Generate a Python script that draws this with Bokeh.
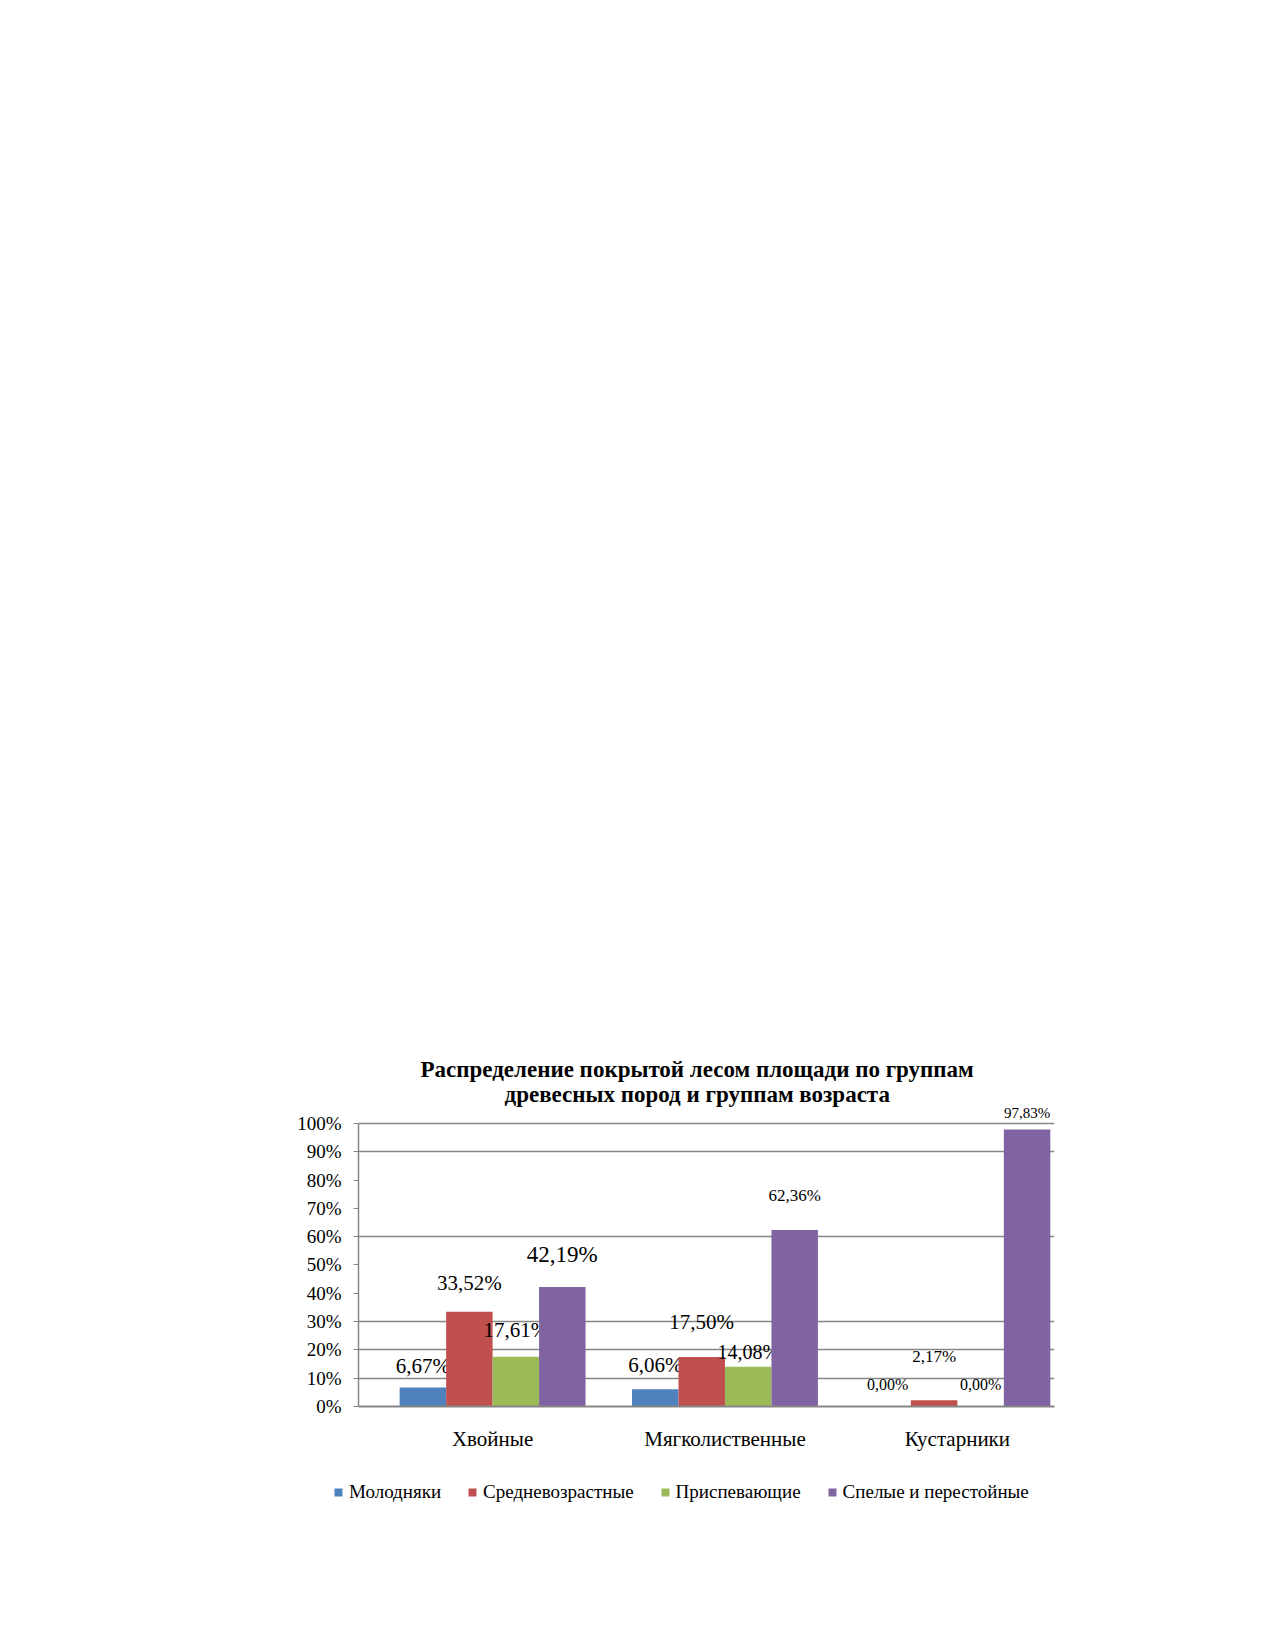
from bokeh.plotting import figure
from bokeh.layouts import column
from bokeh.models import (ColumnDataSource, Range1d, FixedTicker, PrintfTickFormatter,
                          Title, Legend, LegendItem)
from bokeh.core.properties import value
from bokeh.embed import file_html
from bokeh.resources import INLINE

# ---------------- data ----------------
categories = ["Хвойные", "Мягколиственные", "Кустарники"]
series_names = ["Молодняки", "Средневозрастные", "Приспевающие", "Спелые и перестойные"]
molodnyaki = [6.67, 6.06, 0.00]
srednevozrastnye = [33.52, 17.50, 2.17]
prispevayushchie = [17.61, 14.08, 0.00]
spelye = [42.19, 62.36, 97.83]
series_values = [molodnyaki, srednevozrastnye, prispevayushchie, spelye]
y_ticks = [0, 10, 20, 30, 40, 50, 60, 70, 80, 90, 100]
title_lines = ["Распределение покрытой лесом площади по группам",
               "древесных пород и группам возраста"]

# ---------------- styles ----------------
colors = ["#4F81BD", "#C0504D", "#9BBB59", "#8064A2"]
offsets = [-0.3, -0.1, 0.1, 0.3]
bar_w = 0.2
# per-series label font sizes (px) and gaps above bar top (px), per category
label_sizes = [[21, 21, 16], [21, 21, 17], [21, 20, 16], [23, 17, 15]]
label_gaps = [[22, 24, 22], [29, 35, 44], [27, 15, 22], [33, 35, 17]]
grid_levels = [10, 20, 30, 60, 90, 100]
title_offsets = [62, 146]
FONT = "Liberation Serif"
GRAY = "#868686"
CANVAS_W = 1094

p = figure(frame_width=696, frame_height=300, title=None, toolbar_location=None,
           output_backend="svg", x_range=Range1d(-0.577, 2.418), y_range=Range1d(0, 106),
           min_border_left=358, min_border_right=40, min_border_top=1106,
           min_border_bottom=60, outline_line_color=None)
p.background_fill_color = "white"
p.border_fill_color = "white"

# titles
p.add_layout(Title(text=title_lines[1], align="left", text_font=FONT,
                   text_font_size="23px", text_font_style="bold", text_color="black",
                   standoff=0, offset=title_offsets[1]), "above")
p.add_layout(Title(text=title_lines[0], align="left", text_font=FONT,
                   text_font_size="23px", text_font_style="bold", text_color="black",
                   standoff=-5, offset=title_offsets[0]), "above")

# bars + value labels
for i, vals in enumerate(series_values):
    xs = [k + offsets[i] for k in range(len(categories))]
    src = ColumnDataSource(dict(x=xs, top=vals,
                                label=[f"{v:.2f}".replace(".", ",") + "%" for v in vals],
                                size=[f"{s}px" for s in label_sizes[i]],
                                yoff=[-g for g in label_gaps[i]]))
    p.vbar(x="x", top="top", width=bar_w, source=src, fill_color=colors[i],
           line_color=None)
    p.text(x="x", y="top", text="label", source=src, text_align="center",
           text_baseline="alphabetic", text_font=value(FONT), text_font_size="size",
           y_offset="yoff", text_color="black")

# axes
p.xaxis.ticker = FixedTicker(ticks=list(range(len(categories))))
p.xaxis.major_label_overrides = {k: c for k, c in enumerate(categories)}
p.xaxis.major_label_text_font = FONT
p.xaxis.major_label_text_font_size = "21px"
p.xaxis.major_label_text_color = "black"
p.xaxis.major_label_standoff = 14
p.xaxis.major_tick_line_color = None
p.xaxis.minor_tick_line_color = None
p.xaxis.axis_line_color = GRAY
p.xaxis.axis_line_width = 2

p.yaxis.ticker = FixedTicker(ticks=y_ticks)
p.yaxis.formatter = PrintfTickFormatter(format="%d%%")
p.yaxis.bounds = (0, 100)
p.yaxis.major_label_text_font = FONT
p.yaxis.major_label_text_font_size = "19px"
p.yaxis.major_label_text_color = "black"
p.yaxis.major_label_standoff = 12
p.yaxis.major_tick_out = 5
p.yaxis.major_tick_in = 0
p.yaxis.major_tick_line_color = GRAY
p.yaxis.minor_tick_line_color = None
p.yaxis.axis_line_color = GRAY
p.yaxis.axis_line_width = 1.5

p.xgrid.grid_line_color = None
p.ygrid.ticker = FixedTicker(ticks=grid_levels)
p.ygrid.grid_line_color = GRAY
p.ygrid.grid_line_width = 1.5

# legend strip below the chart (proxy renderers sit outside the strip's visible range)
lg = figure(frame_width=CANVAS_W, frame_height=50, min_border=0, toolbar_location=None,
            output_backend="svg", x_range=Range1d(0, 1), y_range=Range1d(0, 1),
            x_axis_type=None, y_axis_type=None, outline_line_color=None)
lg.grid.visible = False
items = []
for name, c in zip(series_names, colors):
    r = lg.vbar(x="x", top="top", bottom="bottom", width=0.1, fill_color=c, line_color=None,
                source=ColumnDataSource(dict(x=[-5.0], top=[-4.0], bottom=[-5.0])))
    items.append(LegendItem(label=name, renderers=[r]))
legend = Legend(items=items, orientation="horizontal", location=(333, 13),
                label_text_font=FONT, label_text_font_size="19px", label_text_color="black",
                glyph_width=10, glyph_height=10, label_standoff=6, spacing=26,
                padding=0, margin=0, border_line_color=None, background_fill_alpha=0)
lg.add_layout(legend)

layout = column(p, lg, spacing=0)
open("out.html", "w").write(file_html(layout, INLINE))
